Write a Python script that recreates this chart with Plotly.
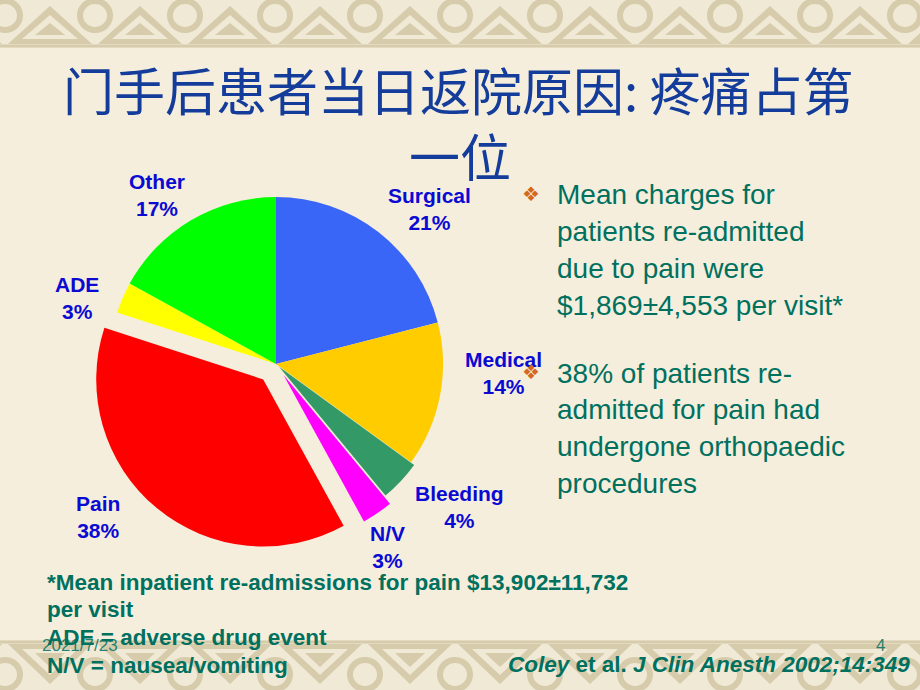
import plotly.graph_objects as go

W, H = 920, 690

# ---------------- data ----------------
categories = ["Surgical", "Medical", "Bleeding", "N/V", "Pain", "ADE", "Other"]
percent_values = [21, 14, 4, 3, 38, 3, 17]

# ---------------- styling ----------------
slice_colors = ["#3A66F7", "#FFCC00", "#339966", "#FF00FF", "#FF0000", "#FFFF00", "#00FF00"]
slice_pull = [0, 0, 0.025, 0.08, 0.12, 0, 0]
# label centres (pixels) for each category label
label_pos = [(429, 209), (504, 373), (459, 507), (387, 547), (98, 517), (77, 298), (157, 195)]

title_line1 = "门手后患者当日返院原因: 疼痛占第"
title_line2 = "一位"
bullet1_lines = ["Mean charges for", "patients re-admitted", "due to pain were",
                 "$1,869±4,553 per visit*"]
bullet2_lines = ["38% of patients re-", "admitted for pain had", "undergone orthopaedic",
                 "procedures"]
footnote_lines = ["*Mean inpatient re-admissions for pain $13,902±11,732", "per visit",
                  "ADE = adverse drug event", "N/V = nausea/vomiting"]
date_text = "2021/7/23"
page_no = "4"

BG = "#F5EEDC"
TEAL = "#00705F"
LABEL_BLUE = "#0A0AD2"
TITLE_BLUE = "#143C9B"
TAN = "rgb(214,203,171)"
LIGHT = "rgb(240,233,214)"
SANS = "Liberation Sans, Arial, sans-serif"


def px(x, y):
    return x / W, 1 - y / H


fig = go.Figure()

# pie domain: unpulled radius ~167px, centre (276, 364)
cx, cy, r = 276, 364, 167
half = r * (1 + max(slice_pull))
fig.add_trace(go.Pie(
    labels=categories, values=percent_values, sort=False, direction="clockwise",
    rotation=0, pull=slice_pull, textinfo="none", showlegend=False,
    marker=dict(colors=slice_colors, line=dict(width=0)),
    domain=dict(x=[(cx - half) / W, (cx + half) / W],
                y=[1 - (cy + half) / H, 1 - (cy - half) / H]),
))

ann = []
# slice labels
for cat, val, (lx, ly) in zip(categories, percent_values, label_pos):
    x, y = px(lx, ly)
    ann.append(dict(x=x, y=y, xref="paper", yref="paper", showarrow=False,
                    text=f"<b>{cat}</b><br><b>{val}%</b>", align="center",
                    xanchor="center", yanchor="middle",
                    font=dict(family=SANS, size=21, color=LABEL_BLUE)))

# title
for txt, (tx, ty) in [(title_line1, (458, 89)), (title_line2, (460, 155))]:
    x, y = px(tx, ty)
    ann.append(dict(x=x, y=y, xref="paper", yref="paper", showarrow=False, text=txt,
                    xanchor="center", yanchor="middle",
                    font=dict(family="Noto Sans CJK SC", size=51, color=TITLE_BLUE)))

# bullets
for lines, y0 in [(bullet1_lines, 195), (bullet2_lines, 373)]:
    bx, by = px(531, y0 - 1)
    ann.append(dict(x=bx, y=by, xref="paper", yref="paper", showarrow=False, text="❖",
                    xanchor="center", yanchor="middle",
                    font=dict(family="DejaVu Sans", size=20, color="#D2691E")))
    for i, line in enumerate(lines):
        x, y = px(555, y0 + i * 36.8)
        ann.append(dict(x=x, y=y, xref="paper", yref="paper", showarrow=False, text=line,
                        xanchor="left", yanchor="middle",
                        font=dict(family=SANS, size=28, color=TEAL)))

# footnotes
for i, line in enumerate(footnote_lines):
    x, y = px(45, 582 + i * 27.7)
    ann.append(dict(x=x, y=y, xref="paper", yref="paper", showarrow=False,
                    text=f"<b>{line}</b>", xanchor="left", yanchor="middle",
                    font=dict(family=SANS, size=22.5, color=TEAL)))

# date & page number
x, y = px(40, 645)
ann.append(dict(x=x, y=y, xref="paper", yref="paper", showarrow=False, text=date_text,
                xanchor="left", yanchor="middle",
                font=dict(family=SANS, size=17, color="rgba(0,112,95,0.85)")))
x, y = px(880, 645)
ann.append(dict(x=x, y=y, xref="paper", yref="paper", showarrow=False, text=page_no,
                xanchor="center", yanchor="middle",
                font=dict(family=SANS, size=17, color="rgba(0,112,95,0.85)")))

# citation
x, y = px(912, 664)
ann.append(dict(x=x, y=y, xref="paper", yref="paper", showarrow=False,
                text="<b><i>Coley</i> et al. <i>J Clin Anesth 2002;14:349</i></b>",
                xanchor="right", yanchor="middle",
                font=dict(family=SANS, size=22.5, color=TEAL)))

# ---------------- decorative bands ----------------
shapes = []


def path_from(points):
    pts = [px(a, b) for a, b in points]
    return "M " + " L ".join(f"{a:.5f},{b:.5f}" for a, b in pts) + " Z"


def band(y_top, y_bot, flip):
    def fy(y):
        return (y_top + y_bot - y) if flip else y
    x0, y0 = px(0, y_top)
    x1, y1 = px(W, y_bot)
    shapes.append(dict(type="rect", xref="paper", yref="paper", x0=x0, x1=x1, y0=y1, y1=y0,
                       fillcolor=LIGHT, line=dict(width=0), layer="below"))
    for i in range(-1, 12):
        c = 50 + 90 * i
        # interlacing loops
        lx0, ly0 = px(c + 45 - 15, fy(y_top + 1))
        lx1, ly1 = px(c + 45 + 15, fy(y_top + 30))
        shapes.append(dict(type="circle", xref="paper", yref="paper",
                           x0=lx0, x1=lx1, y0=min(ly0, ly1), y1=max(ly0, ly1),
                           line=dict(color=TAN, width=6), layer="below"))
        tri = [(c, fy(y_top + 6)), (c + 42, fy(y_bot - 4)), (c - 42, fy(y_bot - 4))]
        shapes.append(dict(type="path", xref="paper", yref="paper", path=path_from(tri),
                           fillcolor=TAN, line=dict(width=0), layer="below"))
        tri2 = [(c, fy(y_top + 15)), (c + 28, fy(y_bot - 9)), (c - 28, fy(y_bot - 9))]
        shapes.append(dict(type="path", xref="paper", yref="paper", path=path_from(tri2),
                           fillcolor=LIGHT, line=dict(width=0), layer="below"))
        tri3 = [(c, fy(y_top + 23)), (c + 15, fy(y_bot - 13)), (c - 15, fy(y_bot - 13))]
        shapes.append(dict(type="path", xref="paper", yref="paper", path=path_from(tri3),
                           fillcolor=TAN, line=dict(width=0), layer="below"))
    la, lb = px(0, fy(y_bot - 2))
    lc, ld = px(W, fy(y_bot - 2))
    shapes.append(dict(type="line", xref="paper", yref="paper", x0=la, y0=lb, x1=lc, y1=ld,
                       line=dict(color=TAN, width=3), layer="below"))


band(0, 48, False)
band(640, 690, True)

fig.update_layout(
    width=W, height=H, margin=dict(l=0, r=0, t=0, b=0),
    paper_bgcolor=BG, plot_bgcolor=BG,
    annotations=ann, shapes=shapes,
)

fig.write_html("out.html")
